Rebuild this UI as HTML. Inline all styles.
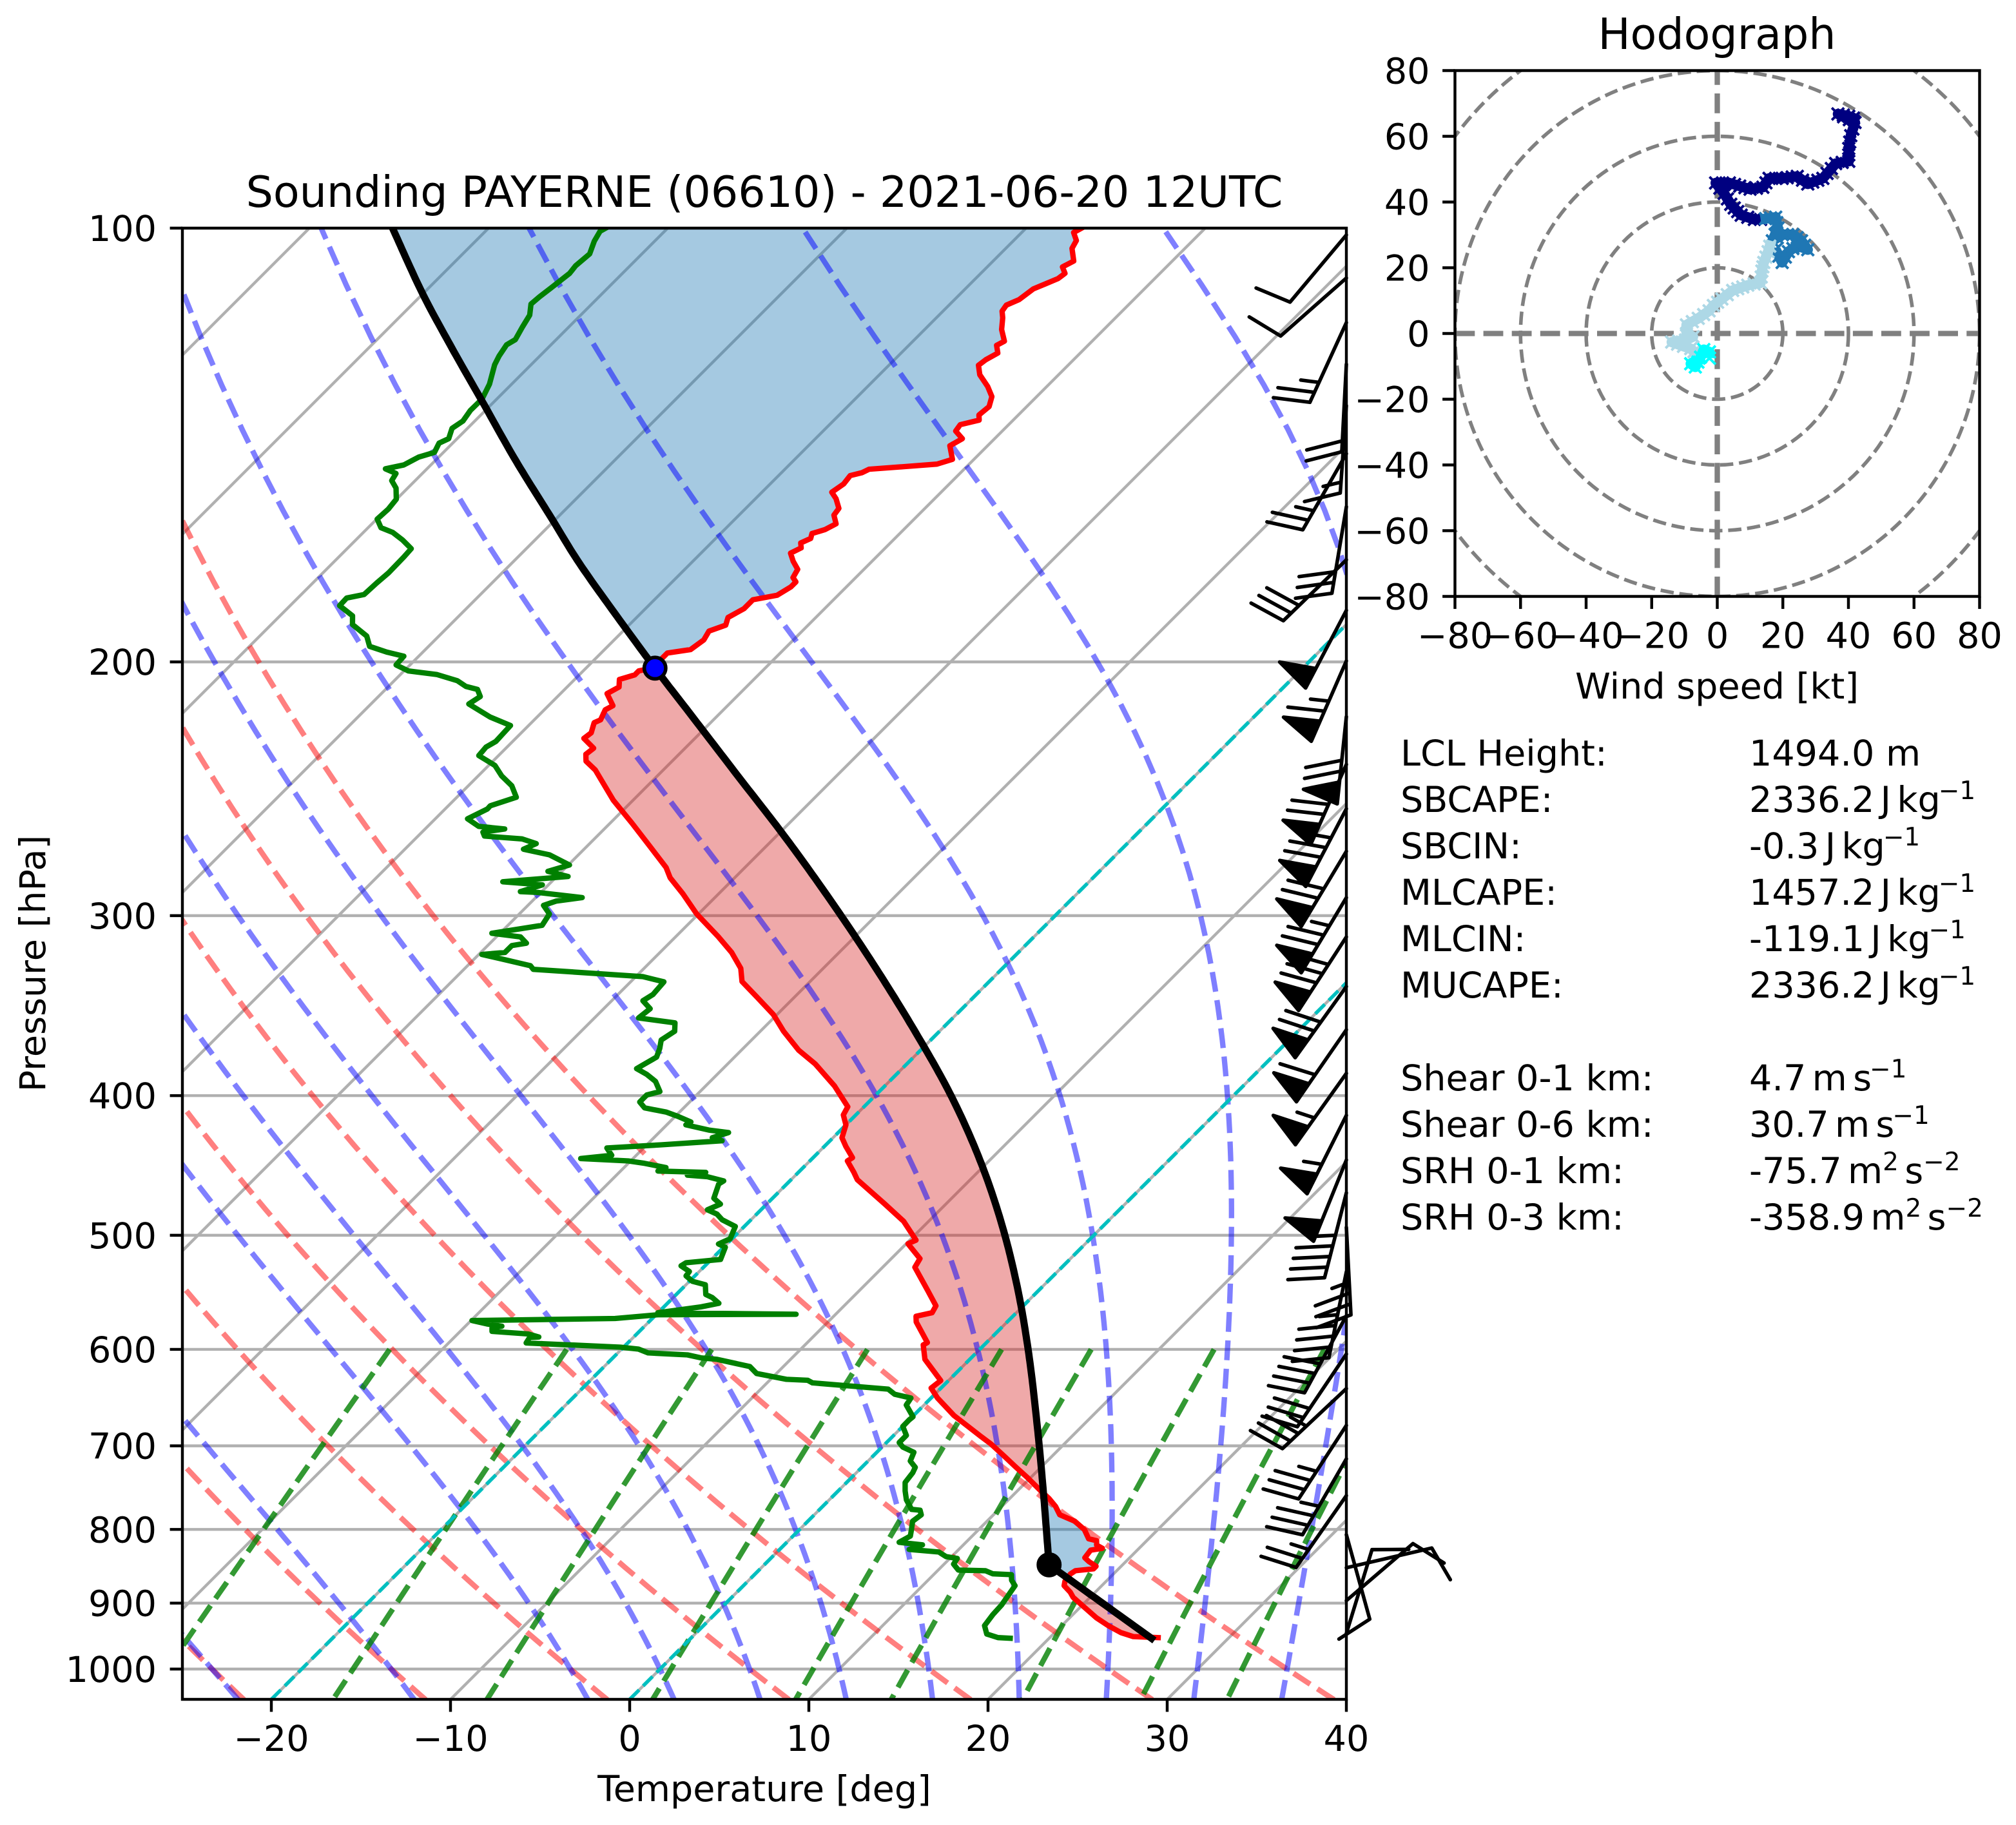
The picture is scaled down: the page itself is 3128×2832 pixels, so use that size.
<!DOCTYPE html>
<html lang="en">
<head>
<meta charset="utf-8">
<title>Sounding PAYERNE (06610) - 2021-06-20 12UTC</title>
<style>
html,body{margin:0;padding:0;background:#fff}
svg{display:block}
text{font-family:"DejaVu Sans","Liberation Sans",sans-serif;fill:#000;font-size:55.56px}
</style>
</head>
<body>
<svg xmlns="http://www.w3.org/2000/svg" id="figure" width="3128" height="2832" viewBox="0 0 3128 2832">
<defs>
<clipPath id="main-clip"><rect x="283" y="354" width="1806" height="2283"/></clipPath>
<clipPath id="hodo-clip"><rect x="2257.5" y="109.5" width="814" height="816"/></clipPath>
</defs>
<rect x="0" y="0" width="3128" height="2832" fill="#ffffff"/>

<g id="main-plot" clip-path="url(#main-clip)"></g>
<g id="barbs"></g>
<g id="main-axes"></g>
<g id="hodo-plot" clip-path="url(#hodo-clip)"></g>
<g id="hodo-axes"></g>

<text x="1186" y="321" text-anchor="middle" style="font-size:66.67px">Sounding PAYERNE (06610) - 2021-06-20 12UTC</text>
<text x="1186" y="2795" text-anchor="middle">Temperature [deg]</text>
<text x="70" y="1495" text-anchor="middle" transform="rotate(-90 70 1495)">Pressure [hPa]</text>
<text x="2664" y="76" text-anchor="middle" style="font-size:66.67px">Hodograph</text>
<text x="2664" y="1084" text-anchor="middle">Wind speed [kt]</text>

<g id="stats">
<text x="2173" y="1188">LCL Height:</text>
<text x="2714" y="1188">1494.0 m</text>
<text x="2173" y="1260">SBCAPE:</text>
<text x="2714" y="1260">2336.2<tspan dx="9.3">J</tspan><tspan dx="9.3">kg</tspan><tspan dx="-3" dy="-20" style="font-size:38.9px">−1</tspan></text>
<text x="2173" y="1332">SBCIN:</text>
<text x="2714" y="1332">-0.3<tspan dx="9.3">J</tspan><tspan dx="9.3">kg</tspan><tspan dx="-3" dy="-20" style="font-size:38.9px">−1</tspan></text>
<text x="2173" y="1404">MLCAPE:</text>
<text x="2714" y="1404">1457.2<tspan dx="9.3">J</tspan><tspan dx="9.3">kg</tspan><tspan dx="-3" dy="-20" style="font-size:38.9px">−1</tspan></text>
<text x="2173" y="1476">MLCIN:</text>
<text x="2714" y="1476">-119.1<tspan dx="9.3">J</tspan><tspan dx="9.3">kg</tspan><tspan dx="-3" dy="-20" style="font-size:38.9px">−1</tspan></text>
<text x="2173" y="1548">MUCAPE:</text>
<text x="2714" y="1548">2336.2<tspan dx="9.3">J</tspan><tspan dx="9.3">kg</tspan><tspan dx="-3" dy="-20" style="font-size:38.9px">−1</tspan></text>
<text x="2173" y="1692">Shear 0-1 km:</text>
<text x="2714" y="1692">4.7<tspan dx="9.3">m</tspan><tspan dx="9.3">s</tspan><tspan dx="-3" dy="-20" style="font-size:38.9px">−1</tspan></text>
<text x="2173" y="1764">Shear 0-6 km:</text>
<text x="2714" y="1764">30.7<tspan dx="9.3">m</tspan><tspan dx="9.3">s</tspan><tspan dx="-3" dy="-20" style="font-size:38.9px">−1</tspan></text>
<text x="2173" y="1836">SRH 0-1 km:</text>
<text x="2714" y="1836">-75.7<tspan dx="9.3">m</tspan><tspan dy="-20" style="font-size:38.9px">2</tspan><tspan dx="9.3" dy="20">s</tspan><tspan dy="-20" style="font-size:38.9px">−2</tspan></text>
<text x="2173" y="1908">SRH 0-3 km:</text>
<text x="2714" y="1908">-358.9<tspan dx="9.3">m</tspan><tspan dy="-20" style="font-size:38.9px">2</tspan><tspan dx="9.3" dy="20">s</tspan><tspan dy="-20" style="font-size:38.9px">−2</tspan></text>
</g>
</svg>

<script>
// ---------- Sounding data ----------
const tempPressure = [951,949.4,943.5,933,921.4,905.5,891.6,884.3,875.2,869,859.1,854.6,852,848.5,842.3,837.1,827,824.5,820.3,814.5,812,800.2,789.6,781.5,771.1,761.5,750,736.2,723.3,712.3,697.8,689.3,679,666.8,648.5,638.3,630.7,609.6,595.7,593.5,574.3,569.1,565.9,559.7,546,526.2,519,506.8,503.9,488.9,475.7,457.5,452.2,444,441.7,433.8,427.8,419.1,412.5,407.2,393.9,380.3,372,360.9,351.4,341.7,333.3,326.4,318.2,310.4,299.2,289.7,282.4,277.8,268.5,258.7,249.5,237.7,234.4,231.8,229.6,226,224,220.4,219.4,215.9,214.5,210.4,208.2,205.7,204.2,202.9,202,197.2,196.1,193.1,190.4,188.6,186.3,183.7,181.1,179.8,177.4,176,174.8,172.5,170.3,168.1,166.7,165.4,164.2,162.9,161.9,160.4,158.2,156.5,154.1,152.5,150.5,148.5,147.8,147,146.4,145.8,144.7,141.6,140,138.3,136.9,135.9,134.8,133,130.9,128.8,126.4,124.5,123.4,122.1,120.6,119.8,117.6,115.4,114.2,113.1,112.1,110.2,109.3,108.4,107.5,106.4,105.4,103.3,102,100.7,100];
const tempValues = [26.05,24.6,23.7,22.6,21.5,20.2,19.05,18.6,17.9,17.7,17.6,17.7,18.6,18.6,17.95,17.5,17.4,17.95,17.45,17.2,16.65,15.9,14.9,13.7,13,12.2,11.1,9.8,8.5,7.4,5.9,4.9,3.7,2.25,0.36,-0.55,-0.43,-2.5,-3.4,-3.3,-5.07,-5.4,-4.7,-4.87,-6.2,-8.2,-8.4,-9.9,-9.65,-11.4,-13.4,-16.3,-16.9,-17.9,-17.8,-18.8,-19.5,-20,-20.7,-20.9,-22.8,-25.1,-26.8,-28.7,-30.2,-32.1,-33.8,-34.6,-36,-37.6,-40.1,-42,-43.6,-44.4,-46.5,-48.8,-51.1,-53.8,-54.8,-55.2,-55.1,-56.2,-56.1,-56.5,-56.3,-56.6,-56.4,-57.4,-57.1,-57.5,-56.9,-56.9,-56.3,-56.3,-55.2,-55,-55.2,-54.6,-54.9,-54.5,-54.5,-53.4,-53.1,-53.1,-53.5,-53.7,-54.4,-55,-54.7,-55,-54.7,-54.9,-54.4,-54.1,-54.7,-54.8,-55.5,-56.1,-55.9,-56,-55.5,-55.3,-53.5,-51.8,-51.2,-52.1,-51.8,-52.6,-52.7,-51.9,-52.2,-52.1,-52.5,-53.3,-54.4,-55,-54.9,-54.6,-55.1,-54.9,-55.7,-56.3,-56.7,-56.8,-56.4,-56.2,-55.8,-55.4,-55.3,-55.8,-55.5,-56.3,-56.5,-57.1,-56.9];

const dewPressure = [952,951,945.5,932.9,916.7,902.5,875.2,867.7,860,858.8,854.6,853.7,845.6,838,835.5,829.4,826,820,816.6,808.5,800.2,789.6,781.5,775.8,774.8,763.1,752.3,742.2,730.8,724.5,717.2,707.2,701.4,696.3,688.4,678.6,671.6,668.2,655.8,648.5,644.6,639.3,633,630.4,629.4,623.6,616.7,609.6,608.2,605.3,603.4,599.7,597.9,593.9,588.8,588.2,585.4,583,579.7,578.2,576.1,573,571.1,567.7,567.2,565.9,560.6,557.4,552.3,549.6,541.1,538.2,533.5,529.8,525,522.4,519.7,509.6,507,502.8,493,487.8,483.4,480,475.7,471.3,460.6,458.4,455.3,454.2,452.2,451.2,448.7,445.7,444,442.3,440,434.9,432.7,429.9,427.8,424.3,422.6,419.1,417.2,413.4,410.6,407.9,404.1,399.6,397.4,391,386.6,383.1,376.1,371,366,360.9,356.1,353.3,348.1,343.7,340.3,333.5,330.7,326.9,325,321.4,319.2,318.2,314.7,313.5,310.4,308.6,304.7,299.2,295.1,293.1,291.5,289.1,288.7,285.6,284.2,281.8,279.5,276.7,272.2,269.8,267.4,265.4,264.2,262.5,261.2,260.1,257,253,251.7,248.3,243.8,240,236,232.3,229.2,227.1,221.4,218.4,213.9,211.4,209,208,206.1,204.1,202.9,201,198.2,196.9,195.1,191.9,188.4,185.8,182.8,180.6,179.6,176.3,173.5,169.1,166.9,164.6,162.6,161.4,159.2,156.7,154.2,151.5,149.7,148,146.9,146,144.2,143.1,141,140,137.7,136.1,133.8,131.4,128.3,124.4,122.7,120.5,119.5,117.2,114.9,112.9,111.6,110,107.5,106.2,104.2,102.1,100.5,100];
const dewValues = [17.83,17.11,16.28,15.69,15.54,15.49,15.16,14.67,14.35,13.26,12.68,11.13,10.53,10.42,9.69,9.03,7.23,7.72,6.27,6.55,6.25,5.85,5.97,5.65,5.13,4.31,3.74,3.27,3.15,2.99,2.36,2.07,1.17,0.71,0.71,0.01,0,0.04,-0.99,-1.12,-2.24,-2.89,-7.46,-7.87,-9.12,-11.1,-11.87,-14.1,-15.08,-16,-18.31,-19.06,-20.18,-25.67,-25.78,-25.3,-26.06,-28.22,-28.42,-27.96,-28.92,-29.94,-22.07,-19.89,-12.21,-20.01,-17.93,-17.13,-17.82,-18.35,-18.92,-19.82,-20.49,-20.55,-21.33,-21.23,-19.48,-19.9,-20.46,-20.1,-20.5,-21.6,-22.21,-22.99,-22.58,-23.27,-23.8,-23.69,-24.84,-26.04,-25.17,-27.91,-27.66,-29.08,-30.13,-32.92,-31.37,-32.05,-29.19,-26.02,-26.74,-26.12,-27.36,-28.93,-28.81,-29.87,-30.76,-32.18,-32.78,-32.78,-32.24,-33.05,-33.94,-34.82,-34.35,-34.65,-35.04,-34.78,-35.23,-37.54,-37.41,-38.26,-38.04,-38.14,-39.61,-46.13,-46.49,-48.53,-49.83,-48.65,-48.65,-47.97,-48.65,-50.45,-48.09,-48.32,-49.13,-48.65,-47.4,-50.17,-51.19,-50.34,-52.72,-49.37,-50.78,-49.93,-51.63,-53.38,-52.98,-54.03,-56.29,-56.6,-55.56,-57.16,-58.2,-57.64,-57.66,-56.68,-57.57,-58.68,-59.65,-61.1,-61.17,-60.94,-61.01,-62.63,-64.54,-64.31,-64.87,-65.68,-66.48,-67.95,-69.76,-70.77,-70.83,-72.01,-73.29,-74.03,-75.47,-75.95,-77.24,-77.27,-76.49,-76.43,-76.34,-76.37,-76.42,-77.39,-78.37,-79.28,-79.97,-79.91,-80.02,-80.65,-81.31,-81.47,-82.32,-81.51,-81.12,-80.5,-80.76,-80.47,-80.86,-80.66,-80.84,-80.82,-81.24,-82.03,-82.27,-82.48,-82.28,-82.58,-82.85,-83.39,-83.32,-83.17,-82.95,-83.04,-82.92,-83.37,-83.6,-83.46];

const parcelPressure = [955.3,846.6,742.2,669.6,604,544.9,491.6,443.5,400,360.9,325.6,293.7,264.9,239,215.7,202,182.9,170.2,159.4,145,131.9,121.1,111,100];
const parcelValues = [26,15.9,10.94,7,2.97,-1.24,-5.72,-10.54,-15.76,-21.37,-27.19,-33.2,-39.39,-45.76,-52.09,-56.15,-62.16,-66.44,-70.14,-75.5,-80.68,-85.36,-90.04,-95.36];

const lclPoint = [846.6, 15.9];
const lfcPoint = [202, -56.15];

// ---------- Wind barbs ----------
const barbPressure = [944.7,896.4,850.5,806.8,758,714.7,677.5,638.8,604.5,568.6,530,493.7,467.2,443.3,412.8,386,360,336,310.4,291.5,270.7,252.9,235.6,218.3,199.7,184.2,169.9,156.1,143.4,132.8,124.3,116.3,108.3,101.1];
const barbDirection = [17,49.4,77,164.5,215,210,213,226.8,214,208.5,191.5,177,194.4,202,206.6,215.5,214.7,215.7,213,211,211,207.6,204,186,203.6,207.7,226,189.5,209.8,184,183,204.6,228.6,220];
const barbSpeed = [10,10,10,10,25,35,35,35,30,40,45,35,45,50,55,55,60,70,75,75,70,75,70,70,65,50,30,30,25,15,20,25,10,10];

// ---------- Hodograph segments (kt) ----------
const hodoCyanU = [-2.4,-2.4,-4.1,-5.1,-6.7,-8.1,-6.1];
const hodoCyanV = [-7.5,-5.6,-4.9,-7.2,-10.2,-9.2,-7.9];
const hodoLightU = [-6.1,-8.1,-10.3,-13.9,-9.7,-7.4,-9.4,-9.4,-5.8,-2.5,-1.2,1.4,4.7,9.3,13.2,13.6,14.2,15.5,16.5];
const hodoLightV = [-6.5,-4.6,-3.9,-2.6,-2,-1,0,2.6,4.6,6.9,8.5,10.5,13.1,14.7,15.4,19,21.6,24.9,28.2];
const hodoBlueU = [17.8,19.8,21.7,24.4,27.6,25.7,23.1,19.8,16.8,18.5,17.8,13.2];
const hodoBlueV = [25.5,21.6,24.9,26.8,25.5,28.2,30.1,30.1,28.2,32.1,35.4,34.7];
const hodoNavyU = [13.2,11.3,7.3,4.1,2.1,-0.5,3.7,10,13.9,15.8,19.8,24.4,27.6,32.2,36.1,40.1,40.1,40.7,42,36.8,40.1,43];
const hodoNavyV = [34.7,34.7,36,39.3,42.6,45.8,45.8,43.9,44.5,47.2,47.2,47.8,45.5,47.2,51.7,52.4,56.3,60.2,64.2,66.8,66.1,65];

// ---------- Axis ticks and reference-line parameters ----------
const pressureTicks = [100,200,300,400,500,600,700,800,900,1000];
const temperatureTicks = [-20,-10,0,10,20,30,40];
const isothermValues = [-100,-90,-80,-70,-60,-50,-40,-30,-20,-10,0,10,20,30,40];
const highlightedIsotherms = [-20,0];
const dryAdiabatT0 = [-25,-15,-5,5,15,25,35];
const moistAdiabatT0 = [-25,-15,-5,0,5,10,15,20,25,30,35,40];
const mixingRatios = [0.0004,0.001,0.002,0.004,0.007,0.01,0.016,0.024,0.032];
const hodoTicks = [-80,-60,-40,-20,0,20,40,60,80];
const hodoRings = [20,40,60,80,100,120];

// ---------- Scales ----------
const NS = 'http://www.w3.org/2000/svg';
const AX = {left:282, frameLeft:283, right:2089, top:354, bottom:2637, perDecade:2236, perDeg:27.8};
const HO = {cx:2664.5, cy:517.5, sx:5.0875, sy:5.1, halfX:407, halfY:408};
function yOfP(p){ return AX.top + AX.perDecade*(Math.log10(p)-2); }
function xOfT(t,p){ return AX.left + (t+25)*AX.perDeg + (AX.bottom - yOfP(p)); }
function hx(u){ return HO.cx + HO.sx*u; }
function hy(v){ return HO.cy - HO.sy*v; }
function mk(tag,parent,attrs){
  const el = document.createElementNS(NS,tag);
  for(const k in attrs){ el.setAttribute(k,attrs[k]); }
  parent.appendChild(el);
  return el;
}
function pathFrom(pts){ return 'M'+pts.map(q=>q[0].toFixed(1)+' '+q[1].toFixed(1)).join('L'); }

function interpAt(ps,ts,p){
  const lp = Math.log(p);
  if(p>=ps[0]) return ts[0];
  for(let i=0;i<ps.length-1;i++){
    if(p<=ps[i] && p>=ps[i+1]){
      const a=Math.log(ps[i]), b=Math.log(ps[i+1]);
      return ts[i]+(ts[i+1]-ts[i])*(lp-a)/(b-a);
    }
  }
  return ts[ts.length-1];
}
// Parcel: straight dry section to the LCL (first two knots), smooth cubic above it.
function parcelAt(p){
  if(p>=parcelPressure[1]) return interpAt(parcelPressure.slice(0,2),parcelValues.slice(0,2),p);
  const xs = parcelPressure.slice(1).map(Math.log), ts = parcelValues.slice(1), x = Math.log(p), n = xs.length;
  let i = 0;
  while(i<n-2 && x<xs[i+1]) i++;
  function slope(j){
    const a=Math.max(j-1,0), b=Math.min(j+1,n-1);
    return (ts[b]-ts[a])/(xs[b]-xs[a]);
  }
  const h=xs[i+1]-xs[i], s=(x-xs[i])/h;
  const h00=2*s*s*s-3*s*s+1, h10=s*s*s-2*s*s+s, h01=-2*s*s*s+3*s*s, h11=s*s*s-s*s;
  return h00*ts[i]+h10*h*slope(i)+h01*ts[i+1]+h11*h*slope(i+1);
}
// Thermodynamics for the background reference curves
function satMixing(tK,p){
  const es=6.112*Math.exp(17.67*(tK-273.15)/(tK-29.65));
  return 0.62197*es/(p-es);
}
function moistSlope(p,tK){
  const Rd=287.05, Lv=2.501e6, Cp=1005, eps=0.62197, rs=satMixing(tK,p);
  return (Rd*tK+Lv*rs)/(Cp+Lv*Lv*rs*eps/(Rd*tK*tK))/p;
}
function moistLapse(t0,p){
  let tK=t0+273.15, pc=1000;
  const steps=40, h=(p-pc)/steps;
  for(let i=0;i<steps;i++){
    const k1=moistSlope(pc,tK), k2=moistSlope(pc+h/2,tK+h*k1/2), k3=moistSlope(pc+h/2,tK+h*k2/2), k4=moistSlope(pc+h,tK+h*k3);
    tK+=h*(k1+2*k2+2*k3+k4)/6;
    pc+=h;
  }
  return tK-273.15;
}
function dewFromMixing(w,p){
  const e=p*w/(0.62197+w), g=Math.log(e/6.112);
  return 243.5*g/(17.67-g);
}

// ---------- Main plot ----------
const plot = document.getElementById('main-plot');

pressureTicks.forEach(p=>{
  const el = mk('line',plot,{x1:AX.left,x2:AX.right,y1:yOfP(p),y2:yOfP(p),stroke:'#b0b0b0','stroke-width':4.44});
  
  
});
isothermValues.forEach(t=>{
  const el = mk('line',plot,{x1:xOfT(t,1049.5),y1:AX.bottom,x2:xOfT(t,100),y2:AX.top,stroke:'#b0b0b0','stroke-width':4.44});
  
  
});

// CAPE / CIN shading
(function(){
  const N=2400, top=100, bottom=Math.min(tempPressure[0],parcelPressure[0]);
  let seg=[], sign=0;
  function flush(){
    if(seg.length>1){
      const fwd=seg.map(q=>[xOfT(q.parcel,q.p),yOfP(q.p)]);
      const back=seg.slice().reverse().map(q=>[xOfT(q.env,q.p),yOfP(q.p)]);
      const el = mk('path',plot,{d:pathFrom(fwd.concat(back))+'Z',fill:sign>0?'#d62728':'#1f77b4','fill-opacity':0.4,stroke:'none'});
      
      
    }
  }
  for(let i=0;i<=N;i++){
    const p=bottom*Math.pow(top/bottom,i/N);
    const env=interpAt(tempPressure,tempValues,p), par=parcelAt(p), s=par>=env?1:-1;
    if(s!==sign){
      const last=seg[seg.length-1];
      flush();
      seg=last?[last]:[];
      sign=s;
    }
    seg.push({p:p,env:env,parcel:par});
  }
  flush();
})();

// Reference curves
const refPressures = [];
for(let i=0;i<=100;i++){ refPressures.push(1050-9.5*i); }
dryAdiabatT0.forEach(t0=>{
  const pts = refPressures.map(p=>[xOfT((t0+273.15)*Math.pow(p/1000,0.2858)-273.15,p),yOfP(p)]);
  const el = mk('path',plot,{d:pathFrom(pts),fill:'none',stroke:'#ff0000','stroke-opacity':0.5,'stroke-width':8.33,'stroke-dasharray':'30.8 13.3'});
  
  
});
moistAdiabatT0.forEach(t0=>{
  const pts = refPressures.map(p=>[xOfT(moistLapse(t0,p),p),yOfP(p)]);
  const el = mk('path',plot,{d:pathFrom(pts),fill:'none',stroke:'#0000ff','stroke-opacity':0.5,'stroke-width':8.33,'stroke-dasharray':'30.8 13.3'});
  
  
});
mixingRatios.forEach(w=>{
  const pts=[];
  for(let i=0;i<=30;i++){ const p=600+15*i; pts.push([xOfT(dewFromMixing(w,p),p),yOfP(p)]); }
  const el = mk('path',plot,{d:pathFrom(pts),fill:'none',stroke:'#008000','stroke-opacity':0.8,'stroke-width':8.33,'stroke-dasharray':'30.8 13.3'});
  
  
});
highlightedIsotherms.forEach(t=>{
  const el = mk('line',plot,{x1:xOfT(t,1049.5),y1:AX.bottom,x2:xOfT(t,100),y2:AX.top,stroke:'#00bfbf','stroke-width':5.56,'stroke-dasharray':'20.6 8.9'});
  
  
});

// Profiles
const dewLine = mk('path',plot,{d:pathFrom(dewPressure.map((p,i)=>[xOfT(dewValues[i],p),yOfP(p)])),fill:'none',stroke:'#008000','stroke-width':8.33,'stroke-linejoin':'round','stroke-linecap':'square'});


const tempLine = mk('path',plot,{d:pathFrom(tempPressure.map((p,i)=>[xOfT(tempValues[i],p),yOfP(p)])),fill:'none',stroke:'#ff0000','stroke-width':8.33,'stroke-linejoin':'round','stroke-linecap':'square'});


const parcelPts=[];
for(let i=0;i<=400;i++){
  const p=parcelPressure[0]*Math.pow(100/parcelPressure[0],i/400);
  parcelPts.push([xOfT(parcelAt(p),p),yOfP(p)]);
}
const parcelLine = mk('path',plot,{d:pathFrom(parcelPts),fill:'none',stroke:'#000000','stroke-width':11.1,'stroke-linejoin':'round'});



const lclDot = mk('circle',plot,{cx:xOfT(lclPoint[1],lclPoint[0]),cy:yOfP(lclPoint[0]),r:16.67,fill:'#000000',stroke:'#000000','stroke-width':5.56});


const lfcDot = mk('circle',plot,{cx:xOfT(lfcPoint[1],lfcPoint[0]),cy:yOfP(lfcPoint[0]),r:16.67,fill:'#0000ff',stroke:'#000000','stroke-width':5.56});



// ---------- Barbs ----------
const barbGroup = document.getElementById('barbs');
const BARB = {length:136, spacing:17, height:54.4, width:34};
barbPressure.forEach((p,i)=>{
  const th=barbDirection[i]*Math.PI/180, s=Math.sin(th), c=Math.cos(th), tipX=AX.right, tipY=yOfP(p);
  const local=[[0,0]];
  let rounded=Math.round(barbSpeed[i]/5)*5;
  const flags=Math.floor(rounded/50); rounded-=flags*50;
  const fulls=Math.floor(rounded/10); rounded-=fulls*10;
  const halves=Math.floor(rounded/5);
  let off=BARB.length;
  for(let k=0;k<flags;k++){
    if(off!==BARB.length) off+=BARB.spacing/2;
    local.push([0,off],[BARB.height,off-BARB.width/2],[0,off-BARB.width]);
    off-=BARB.width+BARB.spacing;
  }
  for(let k=0;k<fulls;k++){
    local.push([0,off],[BARB.height,off+BARB.width/2],[0,off]);
    off-=BARB.spacing;
  }
  for(let k=0;k<halves;k++){
    if(off===BARB.length) off-=1.5*BARB.spacing;
    local.push([0,off],[BARB.height/2,off+BARB.width/4],[0,off]);
    off-=BARB.spacing;
  }
  const pts=local.map(q=>[tipX+q[0]*c+q[1]*s, tipY+q[0]*s-q[1]*c]);
  const el = mk('path',barbGroup,{d:pathFrom(pts)+'Z',fill:'#000000',stroke:'#000000','stroke-width':5.56,'stroke-linejoin':'round','stroke-linecap':'round'});
  
  
});

// ---------- Main axes ----------
const mainAxes = document.getElementById('main-axes');
const mainFrame = mk('rect',mainAxes,{x:AX.frameLeft,y:AX.top,width:AX.right-AX.frameLeft,height:AX.bottom-AX.top,fill:'none',stroke:'#000000','stroke-width':4.44});


function fmt(v){ return v<0 ? '\u2212'+Math.abs(v) : String(v); }
pressureTicks.forEach(p=>{
  const tick = mk('line',mainAxes,{x1:AX.frameLeft-19.4,x2:AX.frameLeft,y1:yOfP(p),y2:yOfP(p),stroke:'#000000','stroke-width':4.44});
  
  
  const label = mk('text',mainAxes,{x:AX.left-39,y:yOfP(p)+20,'text-anchor':'end'});
  label.textContent=String(p);
  
  
});
temperatureTicks.forEach(t=>{
  const x=AX.left+(t+25)*AX.perDeg;
  const tick = mk('line',mainAxes,{x1:x,x2:x,y1:AX.bottom,y2:AX.bottom+19.4,stroke:'#000000','stroke-width':4.44});
  
  
  const label = mk('text',mainAxes,{x:x,y:AX.bottom+80,'text-anchor':'middle'});
  label.textContent=fmt(t);
  
  
});

// ---------- Hodograph ----------
const hodoPlot = document.getElementById('hodo-plot');
hodoRings.forEach(r=>{
  const el = mk('ellipse',hodoPlot,{cx:HO.cx,cy:HO.cy,rx:r*HO.sx,ry:r*HO.sy,fill:'none',stroke:'#808080','stroke-width':5.56,'stroke-dasharray':'20.6 8.9'});
  
  
});
const hodoH = mk('line',hodoPlot,{x1:HO.cx-HO.halfX,x2:HO.cx+HO.halfX,y1:HO.cy,y2:HO.cy,stroke:'#808080','stroke-width':8.33,'stroke-dasharray':'30.8 13.3'});


const hodoV = mk('line',hodoPlot,{x1:HO.cx,x2:HO.cx,y1:HO.cy+HO.halfY,y2:HO.cy-HO.halfY,stroke:'#808080','stroke-width':8.33,'stroke-dasharray':'30.8 13.3'});



// Each layer: a band through the read points, peppered with small cross markers along it.
function drawHodoLayer(us,vs,color,name){
  const pts=us.map((u,i)=>[hx(u),hy(vs[i])]);
  const line = mk('path',hodoPlot,{d:pathFrom(pts),fill:'none',stroke:color,'stroke-width':16,'stroke-linejoin':'round'});
  
  
  let d='';
  const m=9.5;
  for(let i=0;i<pts.length-1;i++){
    const dx=pts[i+1][0]-pts[i][0], dy=pts[i+1][1]-pts[i][1], n=Math.max(1,Math.round(Math.hypot(dx,dy)/9));
    for(let k=0;k<n;k++){
      const x=pts[i][0]+dx*k/n, y=pts[i][1]+dy*k/n;
      d+='M'+(x-m).toFixed(1)+' '+(y-m).toFixed(1)+'L'+(x+m).toFixed(1)+' '+(y+m).toFixed(1);
      d+='M'+(x-m).toFixed(1)+' '+(y+m).toFixed(1)+'L'+(x+m).toFixed(1)+' '+(y-m).toFixed(1);
    }
  }
  const marks = mk('path',hodoPlot,{d:d,fill:'none',stroke:color,'stroke-width':4});
  
  
}
drawHodoLayer(hodoNavyU,hodoNavyV,'#000080','hodograph-upper-layer');
drawHodoLayer(hodoBlueU,hodoBlueV,'#1f77b4','hodograph-mid-layer');
drawHodoLayer(hodoLightU,hodoLightV,'#add8e6','hodograph-low-layer');
drawHodoLayer(hodoCyanU,hodoCyanV,'#00ffff','hodograph-surface-layer');

const hodoAxes = document.getElementById('hodo-axes');
const hodoFrame = mk('rect',hodoAxes,{x:HO.cx-HO.halfX,y:HO.cy-HO.halfY,width:2*HO.halfX,height:2*HO.halfY,fill:'none',stroke:'#000000','stroke-width':4.44});


hodoTicks.forEach(v=>{
  const yTick = mk('line',hodoAxes,{x1:HO.cx-HO.halfX-19.4,x2:HO.cx-HO.halfX,y1:hy(v),y2:hy(v),stroke:'#000000','stroke-width':4.44});
  
  
  const yLabel = mk('text',hodoAxes,{x:HO.cx-HO.halfX-39,y:hy(v)+20,'text-anchor':'end'});
  yLabel.textContent=fmt(v);
  
  
  const xTick = mk('line',hodoAxes,{x1:hx(v),x2:hx(v),y1:HO.cy+HO.halfY,y2:HO.cy+HO.halfY+19.4,stroke:'#000000','stroke-width':4.44});
  
  
  const xLabel = mk('text',hodoAxes,{x:hx(v),y:HO.cy+HO.halfY+80,'text-anchor':'middle'});
  xLabel.textContent=fmt(v);
  
  
});
</script>
</body>
</html>
